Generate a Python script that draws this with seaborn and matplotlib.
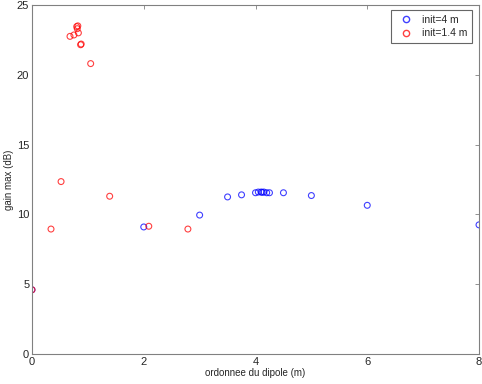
import pandas as pd
import matplotlib
matplotlib.use("Agg")
import matplotlib.pyplot as plt
import seaborn as sns

# ordonnee du dipole (m) and gain max (dB), init = 4 m
x_init4 = [0.0, 2.0, 3.0, 3.5, 3.75, 4.0, 4.05, 4.1, 4.12, 4.15, 4.2, 4.25, 4.5, 5.0, 6.0, 8.0]
g_init4 = [4.6, 9.1, 9.95, 11.25, 11.4, 11.55, 11.6, 11.6, 11.58, 11.6, 11.55, 11.55, 11.55, 11.35, 10.65, 9.25]

# init = 1.4 m
x_init14 = [0.0, 0.34, 0.52, 1.39, 2.09, 2.79, 0.68, 0.75, 0.80, 0.81, 0.82, 0.83, 0.87, 0.88, 1.05]
g_init14 = [4.6, 8.95, 12.35, 11.3, 9.15, 8.95, 22.75, 22.85, 23.45, 23.3, 23.5, 23.0, 22.15, 22.2, 20.8]

labels = ["init=4 m", "init=1.4 m"]
colors = ["#0000ff", "#ff0000"]

df = pd.concat([
    pd.DataFrame({"x": x_init4, "gain": g_init4, "init": labels[0]}),
    pd.DataFrame({"x": x_init14, "gain": g_init14, "init": labels[1]}),
])

sns.set_style("white")
plt.rcParams["font.family"] = ["Liberation Sans", "DejaVu Sans"]
plt.rcParams["font.size"] = 8

fig = plt.figure(figsize=(4.82, 3.84), dpi=100)
ax = fig.add_axes([0.0664, 0.0781, 0.9274, 0.909])

sns.scatterplot(data=df, x="x", y="gain", hue="init", palette=colors,
                marker="o", s=18, linewidth=0.8, alpha=0.75, ax=ax, legend=False)
# seaborn fills markers; turn them into open circles in the hue colours
coll = ax.collections[0]
fc = coll.get_facecolors()
coll.set_edgecolors(fc)
coll.set_facecolor("none")

ax.set_xlim(0, 8)
ax.set_ylim(0, 25)
ax.set_xticks([0, 2, 4, 6, 8])
ax.set_yticks([0, 5, 10, 15, 20, 25])
ax.set_xlabel("ordonnee du dipole (m)", fontsize=7, labelpad=1)
ax.set_ylabel("gain max (dB)", fontsize=7, labelpad=2)
ax.tick_params(direction="in", top=True, right=True, length=3, width=0.6,
               color="#808080", labelsize=8, pad=2)
for sp in ax.spines.values():
    sp.set_color("#808080")
    sp.set_linewidth(0.8)

handles = [plt.Line2D([], [], marker="o", linestyle="none", markerfacecolor="none",
                      markeredgecolor=c, markersize=4.5, alpha=0.75) for c in colors]
leg = ax.legend(handles, labels, loc="upper right", fontsize=7.5, frameon=True,
                fancybox=False, borderpad=0.45, handletextpad=0.5,
                bbox_to_anchor=(0.996, 1.0), labelspacing=0.35)
leg.get_frame().set_edgecolor("#404040")
leg.get_frame().set_linewidth(0.8)

fig.savefig("out.png", dpi=100)
